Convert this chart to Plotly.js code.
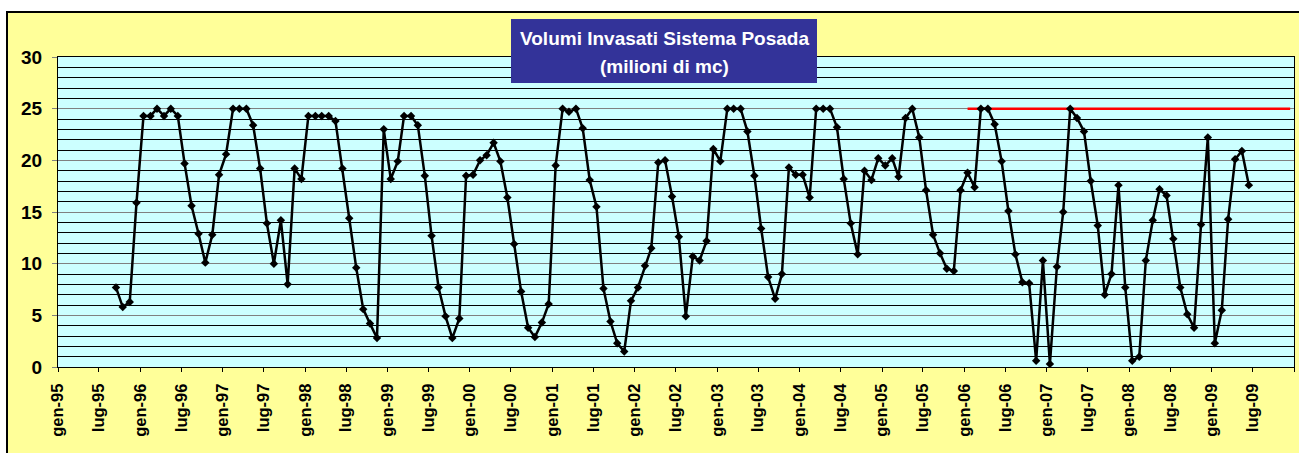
<!DOCTYPE html>
<html>
<head>
<meta charset="utf-8">
<script src="https://cdn.plot.ly/plotly-3.0.1.min.js"></script>
<style>
  html, body { margin: 0; padding: 0; background: #ffffff; overflow: hidden; }
  #frame { position: absolute; left: 6px; top: 11px; width: 1400px; height: 600px;
           border: 2px solid #000; background: #FFFF99; }
  #chart { position: absolute; left: 0; top: 0; width: 1299px; height: 453px; }
</style>
</head>
<body>
<div id="frame"></div>
<div id="chart"></div>
<script>
// ---- Data: monthly stored volume (milioni di mc) ----
const firstYear = 1995;
const firstMonth = 9; // series starts September 1995
const v1995 = [7.7, 5.8, 6.3, 15.9];
const v1996 = [24.3, 24.3, 25.0, 24.3, 25.0, 24.3, 19.7, 15.6, 12.9, 10.1, 12.8, 18.6];
const v1997 = [20.6, 25.0, 25.0, 25.0, 23.4, 19.2, 13.9, 10.0, 14.2, 8.0, 19.2, 18.2];
const v1998 = [24.3, 24.3, 24.3, 24.3, 23.8, 19.2, 14.4, 9.6, 5.6, 4.2, 2.8, 23.0];
const v1999 = [18.2, 19.9, 24.3, 24.3, 23.4, 18.5, 12.7, 7.7, 4.9, 2.8, 4.7, 18.5];
const v2000 = [18.6, 20.0, 20.5, 21.7, 19.9, 16.4, 11.9, 7.3, 3.8, 2.9, 4.3, 6.1];
const v2001 = [19.5, 25.0, 24.7, 25.0, 23.1, 18.1, 15.5, 7.6, 4.4, 2.3, 1.5, 6.4];
const v2002 = [7.7, 9.8, 11.5, 19.8, 20.0, 16.5, 12.6, 4.9, 10.7, 10.3, 12.2, 21.1];
const v2003 = [19.9, 25.0, 25.0, 25.0, 22.8, 18.5, 13.4, 8.7, 6.6, 9.0, 19.3, 18.6];
const v2004 = [18.6, 16.4, 25.0, 25.0, 25.0, 23.2, 18.2, 13.9, 10.9, 19.0, 18.1, 20.2];
const v2005 = [19.5, 20.2, 18.4, 24.1, 25.0, 22.2, 17.1, 12.8, 11.0, 9.5, 9.3, 17.1];
const v2006 = [18.8, 17.4, 25.0, 25.0, 23.5, 19.9, 15.1, 10.9, 8.2, 8.1, 0.6, 10.3];
const v2007 = [0.3, 9.7, 15.0, 25.0, 24.1, 22.8, 18.0, 13.7, 7.0, 9.0, 17.6, 7.7];
const v2008 = [0.6, 1.0, 10.3, 14.2, 17.2, 16.6, 12.4, 7.7, 5.1, 3.8, 13.8, 22.2];
const v2009 = [2.3, 5.5, 14.3, 20.1, 20.9, 17.6];

// Capacity limit line (red)
const limitValue = 25;
const limitStart = '2006-01-15';
const limitEnd = '2009-12-15';

// Axis tick labels (Italian month abbreviations)
const tickMonthNames = ['gen', 'lug'];
const tickMonths = [1, 7];
const tickYears = [1995,1996,1997,1998,1999,2000,2001,2002,2003,2004,2005,2006,2007,2008,2009];

// ---- Build series ----
const allValues = [].concat(v1995, v1996, v1997, v1998, v1999, v2000, v2001,
                            v2002, v2003, v2004, v2005, v2006, v2007, v2008, v2009);
const pad = n => (n < 10 ? '0' : '') + n;
const dates = allValues.map((_, i) => {
  const m0 = (firstMonth - 1) + i;
  const y = firstYear + Math.floor(m0 / 12);
  const m = (m0 % 12) + 1;
  return y + '-' + pad(m) + '-15';
});

const tickvals = [], ticktext = [];
tickYears.forEach(y => {
  tickMonths.forEach((m, k) => {
    tickvals.push(y + '-' + pad(m) + '-01');
    ticktext.push(tickMonthNames[k] + '-' + String(y).slice(2));
  });
});
tickvals.push((tickYears[tickYears.length - 1] + 1) + '-01-01');
ticktext.push('');

const FONT = 'Liberation Sans, Arial, sans-serif';

const traces = [
  {
    x: [limitStart, limitEnd], y: [limitValue, limitValue],
    type: 'scatter', mode: 'lines',
    line: { color: '#FF0000', width: 2.5 },
    hoverinfo: 'skip', showlegend: false
  },
  {
    x: dates, y: allValues,
    type: 'scatter', mode: 'lines+markers',
    line: { color: '#000000', width: 2.5 },
    marker: { symbol: 'diamond', size: 6.5, color: '#000000' },
    showlegend: false
  }
];

const layout = {
  width: 1299, height: 453,
  margin: { l: 58, r: 5, t: 57, b: 86, pad: 0 },
  paper_bgcolor: 'rgba(0,0,0,0)',
  plot_bgcolor: '#CCFFFF',
  font: { family: FONT, color: '#000' },
  showlegend: false,
  xaxis: {
    type: 'date',
    range: ['1995-01-01', '2010-01-01'],
    tickmode: 'array', tickvals: tickvals, ticktext: ticktext,
    tickangle: -90,
    tickfont: { family: FONT, size: 16.5, weight: 'bold', color: '#000' },
    ticks: 'outside', ticklen: 4, tickcolor: '#000', tickwidth: 1,
    ticklabelstandoff: 5,
    showgrid: false, zeroline: false,
    showline: true, linecolor: '#000', linewidth: 1, mirror: true
  },
  yaxis: {
    range: [0, 30], tick0: 0, dtick: 5,
    tickfont: { family: FONT, size: 19, weight: 'bold', color: '#000' },
    ticks: 'outside', ticklen: 5, tickcolor: '#808080', tickwidth: 1,
    ticklabelstandoff: 6,
    showgrid: true, gridcolor: '#808080', gridwidth: 1,
    minor: { dtick: 1, tick0: 0, showgrid: true, gridcolor: '#000000', gridwidth: 1, ticks: '' },
    zeroline: false,
    showline: true, linecolor: '#000', linewidth: 1, mirror: true
  },
  shapes: [
    {
      type: 'rect', xref: 'paper', yref: 'paper', layer: 'above',
      x0: (511 - 58) / 1236, x1: (817 - 58) / 1236,
      y0: (367 - 83) / 310, y1: (367 - 19) / 310,
      fillcolor: '#333399', line: { width: 0 }
    }
  ],
  annotations: [
    {
      xref: 'paper', yref: 'paper', x: (664 - 58) / 1236, y: (367 - 39) / 310,
      xanchor: 'center', yanchor: 'middle', showarrow: false,
      text: 'Volumi Invasati Sistema Posada',
      font: { family: FONT, size: 19, weight: 'bold', color: '#FFFFFF' }
    },
    {
      xref: 'paper', yref: 'paper', x: (664 - 58) / 1236, y: (367 - 66) / 310,
      xanchor: 'center', yanchor: 'middle', showarrow: false,
      text: '(milioni di mc)',
      font: { family: FONT, size: 19, weight: 'bold', color: '#FFFFFF' }
    }
  ]
};

Plotly.newPlot('chart', traces, layout, { displayModeBar: false, staticPlot: true });
</script>
</body>
</html>
